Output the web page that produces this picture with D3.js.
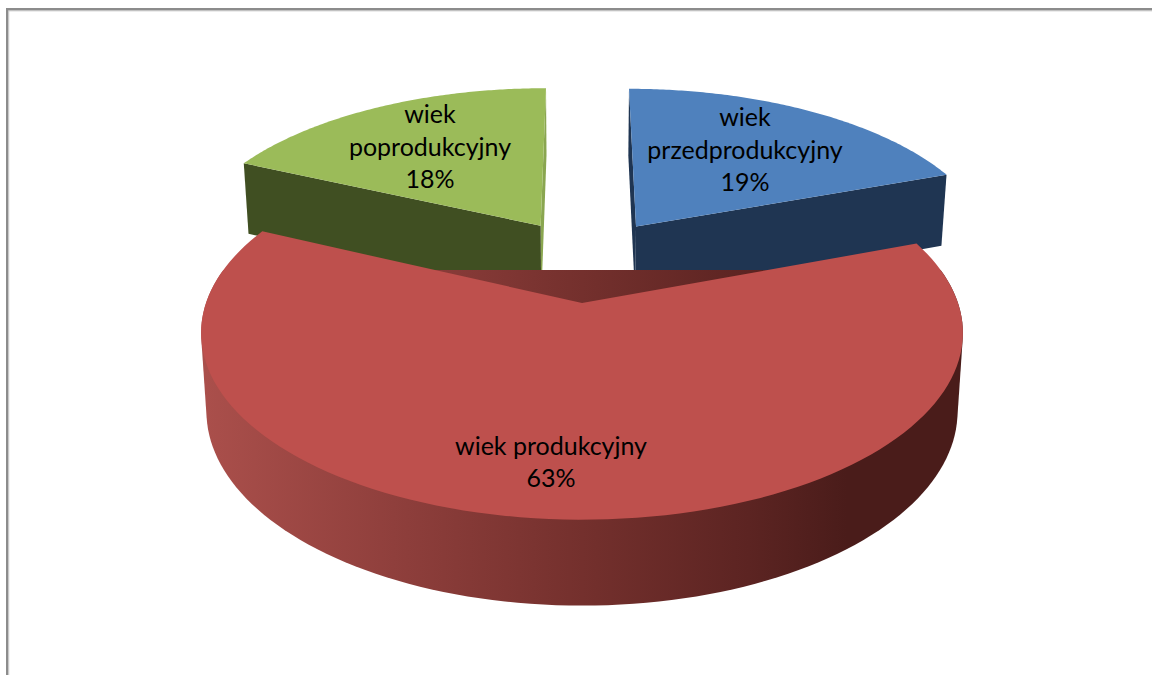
<!DOCTYPE html>
<html><head><meta charset="utf-8">
<style>html,body{margin:0;padding:0;background:#fff;overflow:hidden}svg{display:block}</style>
<script src="https://cdn.jsdelivr.net/npm/d3@7"></script></head>
<body><svg id="c" width="1152" height="675"></svg>
<script>
const categories = ["wiek przedprodukcyjny", "wiek produkcyjny", "wiek poprodukcyjny"];
const values = [19.4, 62.5, 18.1];
const percentLabels = ["19%", "63%", "18%"];
const labelLines = [["wiek", "przedprodukcyjny", "19%"], ["wiek produkcyjny", "63%"], ["wiek", "poprodukcyjny", "18%"]];
const topColors = ["#4f81bd", "#be504d", "#9bbb59"];
const wallColors = ["#1f3552", null, "#404f22"];
const stripColors = ["#1f3552", null, "#8aa650"];
const explodeX = [0.154, 0, -0.118];
const explodeZ = [-0.45, 0, -0.455];
const labelPos = [[745, 118, 32.5], [551, 447, 32], [430, 115, 32.5]];

const svg = d3.select("#c");
// perspective projection of the unit pie disc onto the page
const CX = 582, CY = 303, A = 376, B = 182, P = 0.16, DEPTH = 77, DP = 0.104, SHRINK = 0.986;
const proj = (x, z, low) => {
  const w = 1 - P * z, k = low ? SHRINK : 1;
  return [CX + k * A * x / w, CY + B * z / w + (low ? DEPTH / (1 - DP * z) : 0)];
};
const pie = d3.pie().sort(null).startAngle(0).endAngle(2 * Math.PI)(values);
const rim = (i, t, low) => proj(explodeX[i] + Math.sin(t), explodeZ[i] - Math.cos(t), low);
const apex = (i, low) => proj(explodeX[i], explodeZ[i], low);
const line = d3.line();
const angles = (a, b) => d3.range(0, 121).map(k => a + (b - a) * k / 120);

// frame
svg.append("rect").attr("x", 6).attr("y", 8).attr("width", 1150).attr("height", 2.6).attr("fill", "#8c8c8c");
svg.append("rect").attr("x", 6).attr("y", 8).attr("width", 2.4).attr("height", 670).attr("fill", "#8c8c8c");
svg.append("rect").attr("x", 8.4).attr("y", 10.6).attr("width", 1150).attr("height", 0.8).attr("fill", "#d0d0d0");
svg.append("rect").attr("x", 8.4).attr("y", 10.6).attr("width", 0.8).attr("height", 670).attr("fill", "#c4c4c4");

// gradient for the red outer wall
const defs = svg.append("defs");
const grad = defs.append("linearGradient").attr("id", "redWall").attr("gradientUnits", "userSpaceOnUse")
  .attr("x1", 205).attr("x2", 960).attr("y1", 0).attr("y2", 0);
[[0, "#aa4f4b"], [0.25, "#8f3f3c"], [0.5, "#74302d"], [0.72, "#5c2422"], [0.85, "#4a1c1a"], [1, "#4a1c1a"]]
  .forEach(s => grad.append("stop").attr("offset", s[0]).attr("stop-color", s[1]));

// back slices
[2, 0].forEach(i => {
  const s = pie[i], g = svg.append("g");
  const cutOuter = i === 0 ? s.endAngle : s.startAngle;   // cut facing the viewer
  const cutInner = i === 0 ? s.startAngle : s.endAngle;   // cut facing the gap
  g.append("path").attr("fill", stripColors[i]).attr("d", line([rim(i, cutInner, false), rim(i, cutInner, true), apex(i, true), apex(i, false)]) + "Z");
  g.append("path").attr("fill", wallColors[i]).attr("d", line([apex(i, false), rim(i, cutOuter, false), rim(i, cutOuter, true), apex(i, true)]) + "Z");
  const arc = angles(s.startAngle, s.endAngle).map(t => rim(i, t, false));
  g.append("path").attr("fill", topColors[i]).attr("d", line([apex(i, false), ...arc]) + "Z");
});

// red slice: outer wall as the hull of the front rim at both levels, then top
const r = pie[1];
const wallTop = angles(r.startAngle, r.endAngle).map(t => rim(1, t, false));
const front = angles(Math.PI * 0.44, Math.PI * 1.56);
const hull = d3.polygonHull([...front.map(t => rim(1, t, false)), ...front.map(t => rim(1, t, true))]);
svg.append("path").attr("fill", "url(#redWall)").attr("d", line(hull) + "Z");
svg.append("path").attr("fill", topColors[1]).attr("d", line([apex(1, false), ...wallTop]) + "Z");

// labels
pie.forEach((s, i) => {
  const p = labelPos[i];
  svg.append("text").attr("text-anchor", "middle").attr("font-family", "Lato, Carlito, sans-serif")
    .attr("font-size", 25).attr("fill", "#000")
    .selectAll("tspan").data(labelLines[i]).join("tspan")
    .attr("x", p[0]).attr("y", (d, k) => p[1] + 8 + k * p[2]).text(d => d);
});
</script></body></html>
